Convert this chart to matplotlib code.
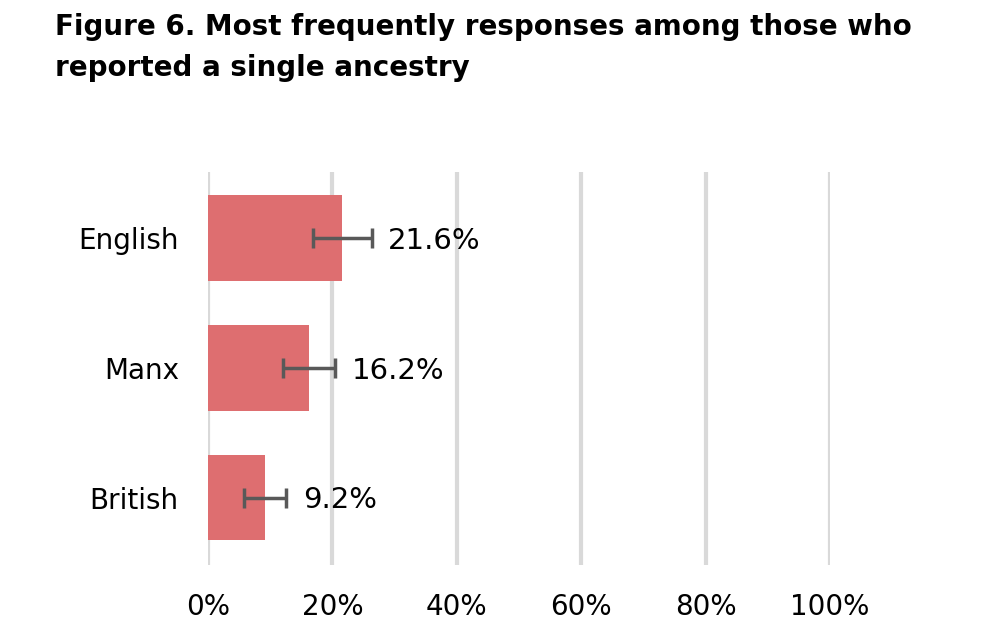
import numpy as np
import matplotlib
matplotlib.use("Agg")
import matplotlib.pyplot as plt

# Values
categories = ["English", "Manx", "British"]
shares = [21.6, 16.2, 9.2]
errors = [4.7, 4.2, 3.4]
xticks = [0, 20, 40, 60, 80, 100]

bar_color = "#DE6E70"
err_color = "#595959"
grid_color = "#D9D9D9"

fig = plt.figure(figsize=(10, 6.31), dpi=100)
ax = fig.add_axes([0.208, 0.1046, 0.622, 0.6228])

y = np.arange(len(categories))
ax.barh(y, shares, height=0.66, color=bar_color, zorder=2)
ax.errorbar(shares, y, xerr=errors, fmt="none", ecolor=err_color,
            elinewidth=2.5, capsize=7, capthick=2.5, zorder=3)

# value labels sit just past the error bar
for yi, v, e in zip(y, shares, errors):
    ax.annotate(f"{v}%", (v + e, yi), xytext=(12, -2), textcoords="offset points",
                va="center", ha="left", fontsize=21)

ax.set_xlim(0, 100)
ax.set_ylim(2.52, -0.51)
ax.set_xticks(xticks)
ax.set_xticklabels([f"{t}%" for t in xticks], fontsize=20)
ax.set_yticks(y)
ax.set_yticklabels(categories, fontsize=20)
ax.tick_params(axis="both", length=0)
ax.tick_params(axis="x", pad=20)
ax.tick_params(axis="y", pad=21)
for t in xticks:
    ax.axvline(t, color=grid_color, lw=3, zorder=1)
for s in ax.spines.values():
    s.set_visible(False)

fig.text(0.055, 0.925, "Figure 6. Most frequently responses among those who\nreported a single ancestry",
         fontsize=20, fontweight="bold", ha="left", va="center", linespacing=1.62)

fig.savefig("out.png", dpi=100)
